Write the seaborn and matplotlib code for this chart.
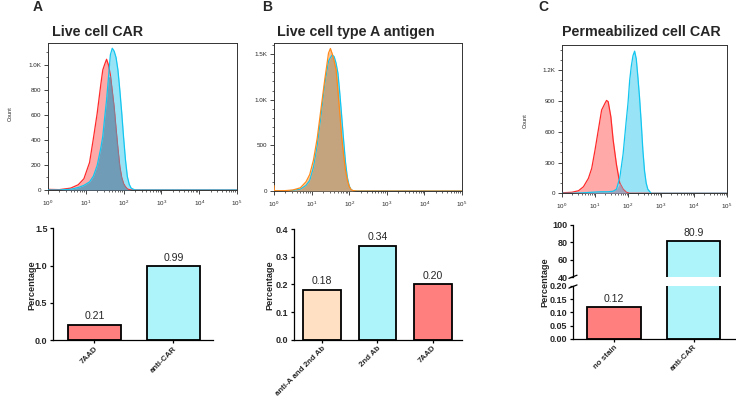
import numpy as np
import matplotlib
matplotlib.use('Agg')
import matplotlib.pyplot as plt
import seaborn as sns
from matplotlib.ticker import FixedLocator, MultipleLocator, FuncFormatter

sns.set_theme(style='ticks')
plt.rcParams['font.family'] = ['Liberation Sans', 'DejaVu Sans']
plt.rcParams['mathtext.default'] = 'regular'

# --- flow histograms: x in decades (10^x), counts ---
a_dec = [0, 0.01, 0.3, 0.6, 0.8, 0.95, 1.1, 1.2, 1.3, 1.4, 1.45, 1.5, 1.55, 1.6, 1.65,
         1.7, 1.75, 1.8, 1.85, 1.9, 1.95, 2.0, 2.05, 2.1, 2.15, 2.2, 2.3, 2.5, 5.0]
a_red = [140, 5, 3, 15, 42, 90, 220, 410, 610, 850, 960, 1005, 1045, 1000, 920,
         790, 660, 490, 330, 186, 100, 50, 25, 8, 3, 0, 0, 0, 0]
a_blue = [0, 0, 0, 6, 20, 37, 65, 110, 195, 340, 430, 580, 720, 900, 1080,
          1133, 1110, 1060, 960, 800, 620, 420, 240, 106, 45, 15, 0, 0, 0]

b_dec = [0, 0.01, 0.3, 0.5, 0.7, 0.85, 0.95, 1.05, 1.15, 1.25, 1.35, 1.45, 1.5, 1.55,
         1.6, 1.65, 1.7, 1.75, 1.8, 1.85, 1.9, 1.95, 2.0, 2.05, 2.1, 2.2, 5.0]
b_blue = [0, 0, 2, 6, 20, 60, 115, 260, 500, 820, 1170, 1420, 1460, 1490,
          1470, 1400, 1290, 1069, 820, 560, 320, 150, 55, 15, 3, 0, 0]
b_orange = [60, 3, 4, 11, 35, 100, 180, 340, 580, 900, 1220, 1510, 1560, 1500,
            1420, 1330, 1100, 850, 594, 400, 230, 120, 50, 15, 5, 0, 0]

c_dec = [0, 0.01, 0.3, 0.5, 0.65, 0.8, 0.9, 1.0, 1.1, 1.2, 1.3, 1.35, 1.4, 1.48, 1.55,
         1.65, 1.75, 1.85, 1.95, 2.0, 2.05, 2.1, 2.15, 2.2, 2.25, 2.3, 2.35, 2.4, 2.45,
         2.5, 2.55, 2.6, 2.7, 5.0]
c_red = [430, 5, 10, 25, 64, 146, 243, 421, 616, 811, 876, 905, 892, 746, 519,
         280, 100, 40, 10, 4, 0, 0, 0, 0, 0, 0, 0, 0, 0, 0, 0, 0, 0, 0]
c_blue = [0, 0, 0, 3, 5, 8, 10, 12, 14, 15, 15, 15, 15, 18, 20,
          40, 150, 380, 720, 880, 1100, 1240, 1340, 1385, 1310, 1130, 930, 690, 420,
          220, 100, 40, 0, 0]

# --- bar charts ---
a_cats = ['7AAD', 'anti-CAR']
a_vals = [0.21, 0.99]
b_cats = ['anti-A and 2nd Ab', '2nd Ab', '7AAD']
b_vals = [0.18, 0.34, 0.20]
c_cats = ['no stain', 'anti-CAR']
c_vals = [0.12, 80.9]

RED_LINE, RED_FILL = '#FF2A2A', '#FFA9A9'
CYAN_LINE, CYAN_FILL = '#12C6F0', '#98E4F6'
ORANGE_LINE = '#FF8A1C'
BAR_RED, BAR_CYAN, BAR_PEACH = '#FF7F7F', '#ADF3FA', '#FFE0C2'


def kfmt(v, pos):
    return f'{v / 1000:.1f}K' if v >= 1000 else f'{int(v)}'


def hist_panel(ax, dec, first, second, c1, f1, c2, f2, overlap, ymax, major):
    x = np.array(dec)
    y1 = np.array(first)
    y2 = np.array(second)
    ax.fill_between(x, 0, y1, color=f1, lw=0, zorder=1)
    ax.fill_between(x, 0, y2, color=f2, lw=0, zorder=1)
    sns.lineplot(x=x, y=y1, ax=ax, color=c1, lw=0.9, estimator=None, sort=False, zorder=2)
    ax.fill_between(x, 0, np.minimum(y1, y2), color=overlap, lw=0, alpha=0.85, zorder=3)
    sns.lineplot(x=x, y=y2, ax=ax, color=c2, lw=0.9, estimator=None, sort=False, zorder=4)
    ax.set_xlim(0, 5)
    ax.set_ylim(0, ymax)
    ax.set_xticks(range(6))
    ax.set_xticklabels([f'$10^{{{k}}}$' for k in range(6)])
    minor = [k + np.log10(m) for k in range(5) for m in range(2, 10)]
    ax.xaxis.set_minor_locator(FixedLocator(minor))
    ax.yaxis.set_major_locator(MultipleLocator(major))
    ax.yaxis.set_minor_locator(MultipleLocator(100))
    ax.yaxis.set_major_formatter(FuncFormatter(kfmt))
    ax.tick_params(which='major', labelsize=4.5, length=3, width=0.6, pad=2,
                   direction='out')
    ax.tick_params(which='minor', length=1.5, width=0.5, direction='out')
    ax.tick_params(axis='x', pad=3)
    for s in ax.spines.values():
        s.set_linewidth(0.7)
        s.set_color('#333333')
    ax.set_xlabel('')
    ax.set_ylabel('')


def bar_panel(ax, cats, vals, colors, width, xlim):
    sns.barplot(x=cats, y=vals, hue=cats, palette=colors, legend=False, ax=ax,
                width=width, edgecolor='black', linewidth=1.3, saturation=1)
    ax.set_xlim(*xlim)
    sns.despine(ax=ax)
    ax.set_xlabel('')
    ax.set_ylabel('')
    for s in ax.spines.values():
        s.set_linewidth(0.9)
        s.set_color('black')
    ax.tick_params(labelsize=6.5, length=2.5, width=0.9, pad=1.5, color='black')
    ax.tick_params(axis='x', labelsize=5.7, pad=1)
    for lab in ax.get_yticklabels() + ax.get_xticklabels():
        lab.set_fontweight('bold')
    for lab in ax.get_xticklabels():
        lab.set_rotation(45)
        lab.set_ha('right')
        lab.set_rotation_mode('anchor')


def label(ax, i, v, txt):
    ax.annotate(txt, (i, v), xytext=(0, 2.5), textcoords='offset points',
                ha='center', va='bottom', fontsize=7.6)


fig = plt.figure(figsize=(7.36, 3.97), dpi=100)

# histograms
ax1 = fig.add_axes([0.0652, 0.5214, 0.2568, 0.3703])
hist_panel(ax1, a_dec, a_red, a_blue, RED_LINE, RED_FILL, CYAN_LINE, CYAN_FILL,
           '#6A90AC', 1175, 200)
ax2 = fig.add_axes([0.3723, 0.5189, 0.2554, 0.3728])
hist_panel(ax2, b_dec, b_blue, b_orange, CYAN_LINE, CYAN_FILL, ORANGE_LINE, '#FFC08A',
           '#BAA07C', 1620, 500)
ax3 = fig.add_axes([0.7636, 0.5131, 0.2242, 0.3736])
hist_panel(ax3, c_dec, c_red, c_blue, RED_LINE, RED_FILL, CYAN_LINE, CYAN_FILL,
           '#A09AB2', 1445, 300)

fig.text(0.0136, 0.715, 'Count', rotation=90, fontsize=4, va='center', ha='center')
fig.text(0.7133, 0.695, 'Count', rotation=90, fontsize=4, va='center', ha='center')

for x, t in [(0.0702, 'Live cell CAR'), (0.376, 'Live cell type A antigen'),
             (0.7632, 'Permeabilized cell CAR')]:
    fig.text(x, 0.909, t, fontsize=10.3, fontweight='bold', va='baseline')
for x, t in [(0.0448, 'A'), (0.3556, 'B'), (0.7314, 'C')]:
    fig.text(x, 0.972, t, fontsize=10, fontweight='bold', va='baseline')

# bar charts
bx1 = fig.add_axes([0.0720, 0.1428, 0.2174, 0.2821])
bar_panel(bx1, a_cats, a_vals, [BAR_RED, BAR_CYAN], 0.67, (-0.525, 1.5))
bx1.set_ylim(0, 1.5)
bx1.set_yticks([0, 0.5, 1.0, 1.5])
bx1.set_yticklabels(['0.0', '0.5', '1.0', '1.5'], fontweight='bold')
for i, v in enumerate(a_vals):
    label(bx1, i, v, f'{v:.2f}')

bx2 = fig.add_axes([0.3995, 0.1443, 0.2283, 0.2788])
bar_panel(bx2, b_cats, b_vals, [BAR_PEACH, BAR_CYAN, BAR_RED], 0.68, (-0.51, 2.53))
bx2.set_ylim(0, 0.4)
bx2.set_yticks([0, 0.1, 0.2, 0.3, 0.4])
bx2.set_yticklabels(['0.0', '0.1', '0.2', '0.3', '0.4'], fontweight='bold')
for i, v in enumerate(b_vals):
    label(bx2, i, v, f'{v:.2f}')

# broken axis for panel C
lo = fig.add_axes([0.7785, 0.1469, 0.2201, 0.1327])
bar_panel(lo, c_cats, c_vals, [BAR_RED, BAR_CYAN], 0.67, (-0.515, 1.52))
lo.set_ylim(0, 0.2)
lo.set_yticks([0, 0.05, 0.10, 0.15, 0.20])
lo.set_yticklabels(['0.00', '0.05', '0.10', '0.15', '0.20'], fontweight='bold')
label(lo, 0, c_vals[0], f'{c_vals[0]:.2f}')

hi = fig.add_axes([0.7785, 0.3015, 0.2201, 0.1325])
bar_panel(hi, c_cats, c_vals, [BAR_RED, BAR_CYAN], 0.67, (-0.515, 1.52))
hi.set_ylim(40, 100)
hi.set_yticks([40, 60, 80, 100])
hi.set_yticklabels(['40', '60', '80', '100'], fontweight='bold')
hi.spines['bottom'].set_visible(False)
hi.tick_params(axis='x', bottom=False, labelbottom=False)
label(hi, 1, c_vals[1], f'{c_vals[1]:.1f}')

d = 0.025
hi.plot([-d, d], [-0.02, 0.04], transform=hi.transAxes, color='black', lw=0.9, clip_on=False)
lo.plot([-d, d], [0.96, 1.02], transform=lo.transAxes, color='black', lw=0.9, clip_on=False)

for x, y in [(0.0431, 0.282), (0.3668, 0.282), (0.7405, 0.2904)]:
    fig.text(x, y, 'Percentage', rotation=90, fontsize=6.6, fontweight='bold',
             va='center', ha='center')

fig.savefig('out.png', dpi=100)
